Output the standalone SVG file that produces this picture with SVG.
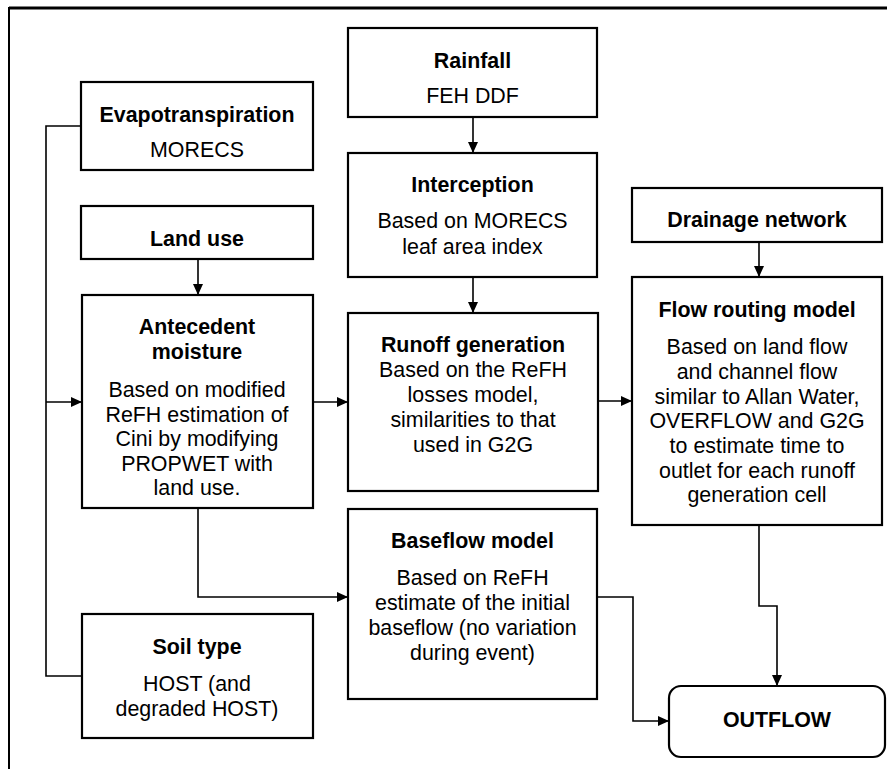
<svg xmlns="http://www.w3.org/2000/svg" width="887" height="769" viewBox="0 0 887 769">
<style>
.box{fill:#fff;stroke:#000;stroke-width:2.2}
.t{font-family:"Liberation Sans",Arial,sans-serif;font-size:21.4px;fill:#000;text-anchor:middle}
.b{font-weight:bold}
.c{fill:none;stroke:#000;stroke-width:1.6}
.frame{fill:none;stroke:#000}
</style>
<defs>
<marker id="ah" markerUnits="userSpaceOnUse" markerWidth="12" markerHeight="11" refX="11" refY="5.5" orient="auto">
<path d="M0,0.5 L11,5.5 L0,10.5 z" fill="#000"/>
</marker>
</defs>
<rect width="887" height="769" fill="#fff"/>
<line class="frame" x1="9" y1="8" x2="887" y2="8" stroke-width="3"/>
<line class="frame" x1="9" y1="7" x2="9" y2="769" stroke-width="2"/>

<g id="connectors">
<path class="c" d="M473,117 V153" marker-end="url(#ah)"/>
<path class="c" d="M473,277 V313" marker-end="url(#ah)"/>
<path class="c" d="M198,259 V295" marker-end="url(#ah)"/>
<path class="c" d="M81,126 H46 V676 H82"/>
<path class="c" d="M46,402 H82" marker-end="url(#ah)"/>
<path class="c" d="M313,402 H348" marker-end="url(#ah)"/>
<path class="c" d="M198,508 V597 H348" marker-end="url(#ah)"/>
<path class="c" d="M598,401 H632" marker-end="url(#ah)"/>
<path class="c" d="M759,242 V277" marker-end="url(#ah)"/>
<path class="c" d="M759,525 V606 H777 V686" marker-end="url(#ah)"/>
<path class="c" d="M597,597 H633 V721 H669" marker-end="url(#ah)"/>
</g>

<g id="rainfall">
<rect class="box" x="348" y="28" width="249" height="89"/>
<text class="t b" x="472.5" y="67.7">Rainfall</text>
<text class="t" x="472.5" y="103.3">FEH DDF</text>
</g>

<g id="evapotranspiration">
<rect class="box" x="81" y="82" width="232" height="88"/>
<text class="t b" x="197" y="121.7">Evapotranspiration</text>
<text class="t" x="197" y="157">MORECS</text>
</g>

<g id="interception">
<rect class="box" x="348" y="153" width="249" height="124"/>
<text class="t b" x="472.5" y="191.7">Interception</text>
<text class="t" x="472.5" y="228.3">Based on MORECS</text>
<text class="t" x="472.5" y="254.3">leaf area index</text>
</g>

<g id="land-use">
<rect class="box" x="81" y="206" width="232" height="53"/>
<text class="t b" x="197" y="246">Land use</text>
</g>

<g id="drainage-network">
<rect class="box" x="632" y="188" width="250" height="54"/>
<text class="t b" x="757" y="226.7">Drainage network</text>
</g>

<g id="antecedent-moisture">
<rect class="box" x="82" y="295" width="231" height="213"/>
<text class="t b" x="197" y="334">Antecedent</text>
<text class="t b" x="197" y="359">moisture</text>
<text class="t" x="197" y="397">Based on modified</text>
<text class="t" x="197" y="421.7">ReFH estimation of</text>
<text class="t" x="197" y="446.3">Cini by modifying</text>
<text class="t" x="197" y="470.7">PROPWET with</text>
<text class="t" x="197" y="495">land use.</text>
</g>

<g id="runoff-generation">
<rect class="box" x="348" y="313" width="250" height="178"/>
<text class="t b" x="473" y="352">Runoff generation</text>
<text class="t" x="473" y="377.3">Based on the ReFH</text>
<text class="t" x="473" y="402">losses model,</text>
<text class="t" x="473" y="427.3">similarities to that</text>
<text class="t" x="473" y="451.7">used in G2G</text>
</g>

<g id="flow-routing-model">
<rect class="box" x="632" y="277" width="250" height="248"/>
<text class="t b" x="757" y="316.7">Flow routing model</text>
<text class="t" x="757" y="354">Based on land flow</text>
<text class="t" x="757" y="379.3">and channel flow</text>
<text class="t" x="757" y="403.5">similar to Allan Water,</text>
<text class="t" x="757" y="428.3">OVERFLOW and G2G</text>
<text class="t" x="757" y="452.7">to estimate time to</text>
<text class="t" x="757" y="477.5">outlet for each runoff</text>
<text class="t" x="757" y="501.7">generation cell</text>
</g>

<g id="baseflow-model">
<rect class="box" x="348" y="509" width="249" height="190"/>
<text class="t b" x="472.5" y="547.7">Baseflow model</text>
<text class="t" x="472.5" y="585">Based on ReFH</text>
<text class="t" x="472.5" y="610">estimate of the initial</text>
<text class="t" x="472.5" y="635">baseflow (no variation</text>
<text class="t" x="472.5" y="660">during event)</text>
</g>

<g id="soil-type">
<rect class="box" x="82" y="614" width="231" height="124"/>
<text class="t b" x="197" y="654">Soil type</text>
<text class="t" x="197" y="690.7">HOST (and</text>
<text class="t" x="197" y="716">degraded HOST)</text>
</g>

<g id="outflow">
<rect class="box" x="669" y="686" width="216" height="71" rx="12" ry="12"/>
<text class="t b" x="777" y="727.3">OUTFLOW</text>
</g>
</svg>
